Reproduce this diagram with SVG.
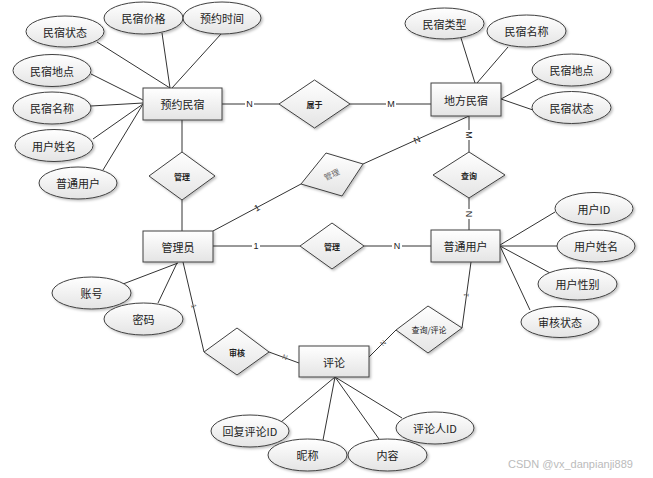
<svg xmlns="http://www.w3.org/2000/svg" width="653" height="478" viewBox="0 0 653 478">
<defs>
<linearGradient id="g" x1="0" y1="0" x2="0" y2="1">
<stop offset="0" stop-color="#ffffff"/>
<stop offset="1" stop-color="#e4e4e4"/>
</linearGradient>
<filter id="sh" x="-10%" y="-10%" width="130%" height="140%">
<feDropShadow dx="1.5" dy="1.5" stdDeviation="1" flood-color="#000" flood-opacity="0.25"/>
</filter>
</defs>
<style>
.s{fill:url(#g);stroke:#404040;stroke-width:1;filter:url(#sh)}
.t{font-family:"Noto Sans CJK SC","Liberation Sans",sans-serif;font-size:11px;fill:#222;text-anchor:middle;dominant-baseline:central}
.d{font-family:"Noto Sans CJK SC","Liberation Sans",sans-serif;font-size:8px;font-weight:bold;fill:#222;text-anchor:middle;dominant-baseline:central}
.l{stroke:#333;stroke-width:1;fill:none}
.c{font-family:"Liberation Sans",sans-serif;font-size:9px;fill:#222;text-anchor:middle;dominant-baseline:central}
.w{font-family:"Liberation Sans","Noto Sans CJK SC",sans-serif;font-size:11px;fill:#bbb}
</style>
<rect width="653" height="478" fill="#fff"/>
<g id="connectors">
<path class="l" d="M97,42 L170,88 M162,33 L170,88 M221,34 L172,88 M91,74 L143,100 M91,106 L143,103 M93,139 L143,104 M103,170 L143,104"/>
<path class="l" d="M222,104 L279,104 M350,104 L431,104"/>
<path class="l" d="M182,120 L182,152 M182,200 L182,231"/>
<path class="l" d="M461,38 L475,83 M508,47 L477,83 M538,79 L501,99 M533,110 L501,99"/>
<path class="l" d="M469,116 L363,164 M301,184 L213,231"/>
<path class="l" d="M469,116 L469,152 M469,198 L469,230"/>
<path class="l" d="M213,246 L300,246 M364,246 L431,246"/>
<path class="l" d="M123,284 L178,263 M158,303 L177,263"/>
<path class="l" d="M183,262 L204,352 M269,352 L299,363"/>
<path class="l" d="M500,245 L555,212 M500,246 L557,246 M500,246 L550,273 M500,246 L530,310"/>
<path class="l" d="M471,262 L462,328 M369,357 L396,330"/>
<path class="l" d="M335,377 L281,422 M335,377 L323,440 M335,377 L379,439 M335,377 L402,418"/>
</g>
<g id="cardinality">
<rect x="245" y="98" width="9" height="12" fill="#fff"/><text class="c" x="249.5" y="104">N</text>
<rect x="386" y="98" width="10" height="12" fill="#fff"/><text class="c" x="391" y="104">M</text>
<text class="c" x="417" y="140" transform="rotate(-24 417 140)">N</text>
<rect x="463" y="130" width="12" height="10" fill="#fff"/><text class="c" x="469" y="135" transform="rotate(90 469 135)">M</text>
<text class="c" x="257" y="208" transform="rotate(-28 257 208)">1</text>
<rect x="252" y="240" width="8" height="12" fill="#fff"/><text class="c" x="256" y="246">1</text>
<rect x="392" y="240" width="10" height="12" fill="#fff"/><text class="c" x="397" y="246">N</text>
<rect x="463" y="209" width="12" height="10" fill="#fff"/><text class="c" x="469" y="214" transform="rotate(90 469 214)">N</text>
<text class="c" x="194" y="306" style="font-size:7px;fill:#666" transform="rotate(77 194 306)">1</text>
<text class="c" x="285" y="357" style="font-size:7px;fill:#666" transform="rotate(20 285 357)">N</text>
<text class="c" x="466" y="295" style="font-size:7px;fill:#666" transform="rotate(-82 466 295)">1</text>
<text class="c" x="383" y="343" style="font-size:7px;fill:#666" transform="rotate(-45 383 343)">N</text>
</g>
<g id="预约民宿"><rect class="s" x="143" y="88" width="79" height="32"/><text class="t" x="182.5" y="104">预约民宿</text></g>
<g id="地方民宿"><rect class="s" x="431" y="83" width="70" height="33"/><text class="t" x="466" y="99.5">地方民宿</text></g>
<g id="管理员"><rect class="s" x="143" y="231" width="70" height="31"/><text class="t" x="178" y="246.5">管理员</text></g>
<g id="普通用户"><rect class="s" x="431" y="230" width="69" height="32"/><text class="t" x="465.5" y="246">普通用户</text></g>
<g id="评论"><rect class="s" x="299" y="346" width="70" height="31"/><text class="t" x="334" y="361.5">评论</text></g>
<g id="属于"><polygon class="s" points="314.5,80 350,104 314.5,128 279,104"/><text class="d" x="314.5" y="104">属于</text></g>
<g id="管理1"><polygon class="s" points="182,152 215,176 182,200 149,176"/><text class="d" x="182" y="176">管理</text></g>
<g id="管理2"><polygon class="s" points="326,153 363,164 342,196 301,184"/><text class="d" x="332" y="175" style="font-weight:normal;fill:#666;font-family:'Liberation Serif','Noto Sans CJK SC',serif" transform="rotate(-25 332 175)">管理</text></g>
<g id="查询"><polygon class="s" points="469,152 505,175 469,198 433,175"/><text class="d" x="469" y="175">查询</text></g>
<g id="管理3"><polygon class="s" points="332,223 364,246 332,269 300,246"/><text class="d" x="332" y="246">管理</text></g>
<g id="审核"><polygon class="s" points="237,328 269,352 237,375 204,352"/><text class="d" x="237" y="352">审核</text></g>
<g id="查询评论"><polygon class="s" points="428,306 462,328 428,353 396,330"/><text class="d" x="429" y="329" style="font-weight:normal">查询/评论</text></g>
<g id="a1"><ellipse class="s" cx="65" cy="31.5" rx="39" ry="15.5"/><text class="t" x="65" y="31.5">民宿状态</text></g>
<g id="a2"><ellipse class="s" cx="143.5" cy="18" rx="39.5" ry="16"/><text class="t" x="143.5" y="18">民宿价格</text></g>
<g id="a3"><ellipse class="s" cx="222" cy="18" rx="39" ry="16"/><text class="t" x="222" y="18">预约时间</text></g>
<g id="a4"><ellipse class="s" cx="52" cy="70.5" rx="39" ry="16"/><text class="t" x="52" y="70.5">民宿地点</text></g>
<g id="a5"><ellipse class="s" cx="52" cy="108" rx="39" ry="16"/><text class="t" x="52" y="108">民宿名称</text></g>
<g id="a6"><ellipse class="s" cx="54" cy="145.5" rx="39" ry="16"/><text class="t" x="54" y="145.5">用户姓名</text></g>
<g id="a7"><ellipse class="s" cx="78" cy="183" rx="39" ry="16"/><text class="t" x="78" y="183">普通用户</text></g>
<g id="b1"><ellipse class="s" cx="444.5" cy="23.5" rx="39.5" ry="15.5"/><text class="t" x="444.5" y="23.5">民宿类型</text></g>
<g id="b2"><ellipse class="s" cx="526.5" cy="31" rx="39.5" ry="16"/><text class="t" x="526.5" y="31">民宿名称</text></g>
<g id="b3"><ellipse class="s" cx="571.5" cy="70" rx="39.5" ry="16"/><text class="t" x="571.5" y="70">民宿地点</text></g>
<g id="b4"><ellipse class="s" cx="571.5" cy="107.5" rx="39.5" ry="16"/><text class="t" x="571.5" y="107.5">民宿状态</text></g>
<g id="c1"><ellipse class="s" cx="91.5" cy="293" rx="39.5" ry="16"/><text class="t" x="91.5" y="293">账号</text></g>
<g id="c2"><ellipse class="s" cx="143.5" cy="319" rx="39.5" ry="16"/><text class="t" x="143.5" y="319">密码</text></g>
<g id="d1"><ellipse class="s" cx="594" cy="208.5" rx="39" ry="16"/><text class="t" x="594" y="208.5">用户ID</text></g>
<g id="d2"><ellipse class="s" cx="596" cy="246" rx="39" ry="16"/><text class="t" x="596" y="246">用户姓名</text></g>
<g id="d3"><ellipse class="s" cx="577.5" cy="284" rx="39.5" ry="16"/><text class="t" x="577.5" y="284">用户性别</text></g>
<g id="d4"><ellipse class="s" cx="560" cy="322" rx="39" ry="15.5"/><text class="t" x="560" y="322">审核状态</text></g>
<g id="e1"><ellipse class="s" cx="250" cy="431" rx="39" ry="16"/><text class="t" x="250" y="431">回复评论ID</text></g>
<g id="e2"><ellipse class="s" cx="307.5" cy="455" rx="39.5" ry="16"/><text class="t" x="307.5" y="455">昵称</text></g>
<g id="e3"><ellipse class="s" cx="387.5" cy="455" rx="39.5" ry="16"/><text class="t" x="387.5" y="455">内容</text></g>
<g id="e4"><ellipse class="s" cx="435" cy="428" rx="39" ry="16"/><text class="t" x="435" y="428">评论人ID</text></g>
<text class="w" x="508" y="468">CSDN @vx_danpianji889</text>
</svg>
